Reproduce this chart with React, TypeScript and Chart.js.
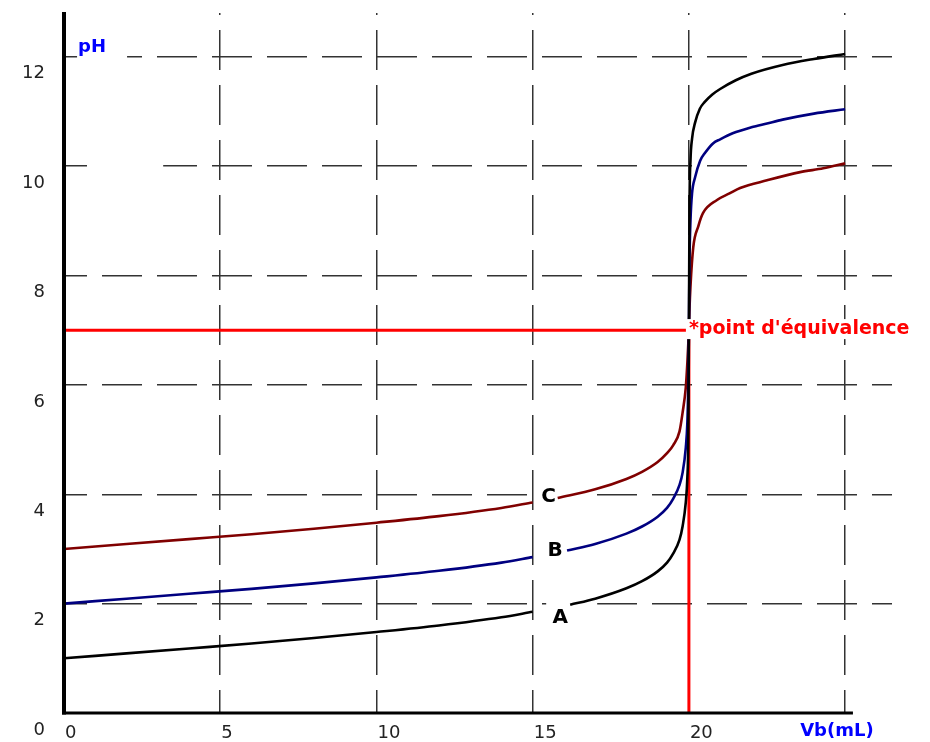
import React, { useEffect, useRef } from 'react';
import { Chart, registerables } from 'chart.js';

Chart.register(...registerables);

// ---- axis ticks ----
const X_TICKS = [0, 5, 10, 15, 20, 25];
const X_TICK_LABELS = ['0', '5', '10', '15', '20', ''];
const Y_TICKS = [0, 2, 4, 6, 8, 10, 12];
const Y_TICK_LABELS = ['0', '2', '4', '6', '8', '10', '12'];

// ---- curve A (black) ----
const A_VB = [0, 2, 4, 6, 8, 10, 12, 14, 15, 15.6, 16.2, 17, 18, 18.5, 19, 19.3, 19.5, 19.7, 19.8, 19.9, 19.95, 19.98, 20, 20.02, 20.05, 20.1, 20.2, 20.35, 20.5, 20.75, 21, 21.5, 22, 23, 24, 25];
const A_PH = [1.0, 1.09, 1.18, 1.27, 1.37, 1.48, 1.6, 1.75, 1.85, null, 1.98, 2.09, 2.28, 2.41, 2.59, 2.75, 2.92, 3.17, 3.42, 3.85, 4.3, 5.0, 7.0, 9.3, 10.1, 10.5, 10.8, 11.05, 11.17, 11.31, 11.41, 11.57, 11.69, 11.85, 11.96, 12.05];

// ---- curve B (navy) ----
const B_VB = [0, 2, 4, 6, 8, 10, 12, 14, 15, 15.55, 16.1, 17, 18, 18.5, 19, 19.3, 19.5, 19.7, 19.8, 19.9, 19.95, 19.98, 20, 20.02, 20.05, 20.1, 20.2, 20.36, 20.5, 20.78, 21, 21.4, 22, 22.5, 23, 24, 25];
const B_PH = [2.0, 2.09, 2.18, 2.27, 2.37, 2.48, 2.6, 2.75, 2.85, null, 2.97, 3.09, 3.28, 3.41, 3.59, 3.75, 3.92, 4.17, 4.4, 4.85, 5.3, 6.0, 7.0, 8.3, 9.0, 9.5, 9.8, 10.1, 10.23, 10.42, 10.49, 10.6, 10.71, 10.78, 10.85, 10.96, 11.04];

// ---- curve C (maroon) ----
const C_VB = [0, 2, 4, 6, 8, 10, 12, 14, 15, 15.4, 15.8, 17, 18, 18.5, 19, 19.3, 19.5, 19.7, 19.8, 19.9, 19.95, 19.98, 20, 20.02, 20.05, 20.14, 20.3, 20.45, 20.9, 21.3, 21.64, 22.5, 23.56, 24.3, 25];
const C_PH = [3.0, 3.09, 3.18, 3.27, 3.37, 3.48, 3.6, 3.75, 3.85, null, 3.93, 4.09, 4.28, 4.41, 4.59, 4.75, 4.9, 5.15, 5.5, 5.95, 6.4, 6.75, 7.0, 7.4, 7.8, 8.52, 8.9, 9.14, 9.38, 9.5, 9.6, 9.74, 9.89, 9.96, 10.05];

// ---- equivalence point ----
const EQ_VB = [0, 20];
const EQ_PH = [0, 7];

// ---- texts ----
const CURVE_NAMES = ['A', 'B', 'C'];
const Y_TITLE = 'pH';
const X_TITLE = 'Vb(mL)';
const EQ_TEXT = "*point d'équivalence";

const pts = (xs: number[], ys: (number | null)[]) => xs.map((x, i) => ({ x, y: ys[i] }));

const overlay = {
  id: 'overlay',
  beforeDatasetsDraw(chart: any) {
    const { ctx } = chart;
    const xs = chart.scales.x;
    const ys = chart.scales.y;
    const px = (v: number) => xs.getPixelForValue(v);
    const py = (v: number) => ys.getPixelForValue(v);
    ctx.save();
    ctx.fillStyle = '#ffffff';
    const boxes = [
      { x: 0.45, y: 12.18, r: [-1, -11, 49, 13] },
      { x: 0.87, y: 10, r: [0, -4, 72, 4] },
      { x: 15.88, y: 1.74, r: [-14, -20, 37, 14] },
      { x: 15.51, y: 3.96, r: [-12, -10, 48, 12] },
    ];
    for (const b of boxes) {
      const cx = px(b.x);
      const cy = py(b.y);
      ctx.fillRect(cx + b.r[0], cy + b.r[1], b.r[2] - b.r[0], b.r[3] - b.r[1]);
    }
    ctx.restore();
  },
  afterDatasetsDraw(chart: any) {
    const { ctx } = chart;
    const xs = chart.scales.x;
    const ys = chart.scales.y;
    const px = (v: number) => xs.getPixelForValue(v);
    const py = (v: number) => ys.getPixelForValue(v);
    ctx.save();
    ctx.strokeStyle = '#000';
    ctx.lineWidth = 4;
    ctx.beginPath();
    ctx.moveTo(px(0), 12);
    ctx.lineTo(px(0), py(0) + 1.5);
    ctx.stroke();
    ctx.lineWidth = 3;
    ctx.beginPath();
    ctx.moveTo(px(0) - 2, py(0));
    ctx.lineTo(px(25.25), py(0));
    ctx.stroke();

    const ex = px(20);
    const ey = py(7.02);
    ctx.fillStyle = '#ffffff';
    ctx.fillRect(ex - 3, ey - 10, 228, 20);
    ctx.fillStyle = '#ff0000';
    ctx.font = 'bold 19px "DejaVu Sans"';
    ctx.textAlign = 'left';
    ctx.textBaseline = 'middle';
    ctx.fillText(EQ_TEXT, ex, ey);

    ctx.fillStyle = '#0000ff';
    ctx.font = 'bold 18px "DejaVu Sans"';
    ctx.fillText(Y_TITLE, px(0.45), py(12.18));
    ctx.fillText(X_TITLE, px(23.56), py(-0.33));

    ctx.fillStyle = '#000';
    ctx.font = 'bold 20px "DejaVu Sans"';
    ctx.textAlign = 'center';
    const namePos = [
      [15.88, 1.74],
      [15.72, 2.96],
      [15.51, 3.96],
    ];
    CURVE_NAMES.forEach((n, i) => ctx.fillText(n, px(namePos[i][0]), py(namePos[i][1])));
    ctx.restore();
  },
};

export default function App() {
  const ref = useRef<HTMLCanvasElement | null>(null);
  useEffect(() => {
    if (!ref.current) return;
    const gridColor = (c: any) => (c.tick && c.tick.value === 0 ? 'rgba(0,0,0,0)' : '#333333');
    const curve = (data: any, color: string) => ({
      data,
      borderColor: color,
      borderWidth: 2.6,
      showLine: true,
      pointRadius: 0,
      spanGaps: false,
      cubicInterpolationMode: 'monotone',
    });
    const chart = new Chart(ref.current, {
      type: 'scatter',
      data: {
        datasets: [
          curve(pts(A_VB, A_PH), '#000000'),
          curve(pts(B_VB, B_PH), '#000080'),
          curve(pts(C_VB, C_PH), '#800000'),
          { data: [{ x: EQ_VB[0], y: EQ_PH[1] }, { x: EQ_VB[1], y: EQ_PH[1] }], borderColor: '#ff0000', borderWidth: 3, showLine: true, pointRadius: 0 },
          { data: [{ x: EQ_VB[1], y: EQ_PH[0] }, { x: EQ_VB[1], y: EQ_PH[1] }], borderColor: '#ff0000', borderWidth: 3, showLine: true, pointRadius: 0 },
        ],
      },
      options: {
        animation: false,
        responsive: true,
        maintainAspectRatio: false,
        layout: { padding: { top: 13, right: 38, left: 0, bottom: 0 } },
        plugins: { legend: { display: false }, tooltip: { enabled: false } },
        scales: {
          x: {
            type: 'linear',
            min: 0,
            max: 26.5,
            afterBuildTicks: (s: any) => {
              s.ticks = X_TICKS.map((v) => ({ value: v }));
            },
            afterFit: (s: any) => {
              s.height = 29;
              s.paddingLeft = 0;
              s.paddingRight = 0;
            },
            grid: { color: gridColor, lineWidth: 1.5, drawTicks: false },
            border: { display: false, dash: [40, 15], dashOffset: 38 },
            ticks: {
              align: 'start',
              labelOffset: 1,
              padding: 10,
              color: '#222',
              font: { family: 'DejaVu Sans', size: 18 },
              callback: (_v: any, i: number) => X_TICK_LABELS[i],
            },
          },
          y: {
            type: 'linear',
            min: 0,
            max: 12.8,
            afterBuildTicks: (s: any) => {
              s.ticks = Y_TICKS.map((v) => ({ value: v }));
            },
            afterFit: (s: any) => {
              s.width = 64;
              s.paddingTop = 0;
              s.paddingBottom = 0;
            },
            grid: { color: gridColor, lineWidth: 1.5, drawTicks: false },
            border: { display: false, dash: [40, 15], dashOffset: 17 },
            ticks: {
              padding: 19,
              labelOffset: 17,
              color: '#222',
              font: { family: 'DejaVu Sans', size: 18 },
              callback: (_v: any, i: number) => Y_TICK_LABELS[i],
            },
          },
        },
      } as any,
      plugins: [overlay],
    });
    return () => chart.destroy();
  }, []);
  return (
    <div style={{ position: 'fixed', left: 0, top: 0, width: 930, height: 742, background: '#fff' }}>
      <canvas ref={ref} />
    </div>
  );
}
